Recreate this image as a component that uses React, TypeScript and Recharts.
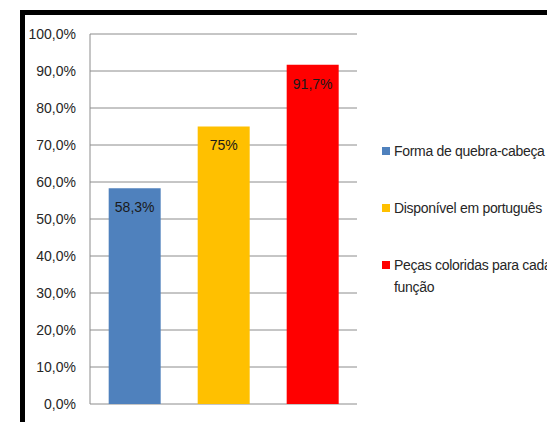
import { BarChart, Bar, XAxis, YAxis, CartesianGrid, Cell, LabelList } from 'recharts';

const categories = ['Forma de quebra-cabeça', 'Disponível em português', 'Peças coloridas para cada função'];
const values = [0.583, 0.75, 0.917];
const valueLabels = ['58,3%', '75%', '91,7%'];
const colors = ['#4F81BD', '#FFC000', '#FF0000'];
const yTicks = [0, 0.1, 0.2, 0.3, 0.4, 0.5, 0.6, 0.7, 0.8, 0.9, 1];

const FONT = '"Liberation Sans", Arial, sans-serif';

const data = categories.map((name, i) => ({ name, value: values[i], label: valueLabels[i] }));

function SideLegend() {
  return (
    <div
      style={{
        position: 'absolute',
        left: 382,
        top: 140,
        fontFamily: FONT,
        fontSize: 14,
        letterSpacing: -0.3,
        color: '#262626',
        whiteSpace: 'nowrap',
      }}
    >
      {categories.map((c, i) => {
        const lines = i === 2 ? ['Peças coloridas para cada', 'função'] : [c];
        return (
          <div key={c} style={{ display: 'flex', alignItems: 'flex-start', height: 57, lineHeight: '22px' }}>
            <span style={{ display: 'inline-block', width: 8, height: 8, background: colors[i], marginTop: 7, marginRight: 4, flexShrink: 0 }} />
            <span>
              {lines.map((l) => (
                <div key={l}>{l}</div>
              ))}
            </span>
          </div>
        );
      })}
    </div>
  );
}

export default function App() {
  return (
    <div style={{ position: 'fixed', left: 0, top: 0, width: 547, height: 422, overflow: 'hidden', background: '#fff' }}>
      <div
        style={{
          position: 'absolute',
          left: 20,
          top: 10,
          width: 600,
          height: 500,
          borderTop: '5px solid #000',
          borderLeft: '5px solid #000',
        }}
      />
      <div style={{ position: 'absolute', left: 0, top: 0 }}>
        <BarChart width={547} height={422} data={data} margin={{ top: 34, right: 190, bottom: 18, left: 0 }} barCategoryGap="21%">
          <CartesianGrid horizontal vertical={false} stroke="#8c8c8c" />
          <XAxis dataKey="name" tick={false} tickLine={false} axisLine={{ stroke: '#8c8c8c' }} height={0} />
          <YAxis
            domain={[0, 1]}
            ticks={yTicks}
            width={90}
            tickLine={false}
            tickSize={0}
            tickMargin={14}
            axisLine={{ stroke: '#8c8c8c' }}
            tickFormatter={(v: number) => `${(v * 100).toFixed(1).replace('.', ',')}%`}
            tick={{ fontFamily: FONT, fontSize: 14, fill: '#262626' }}
            interval={0}
          />
          <Bar dataKey="value" isAnimationActive={false}>
            {data.map((d, i) => (
              <Cell key={d.name} fill={colors[i]} />
            ))}
            <LabelList
              dataKey="label"
              position="insideTop"
              offset={14}
              style={{ fontFamily: FONT, fontSize: 14, fill: '#1a1a1a' }}
            />
          </Bar>
        </BarChart>
      </div>
      <SideLegend />
    </div>
  );
}
